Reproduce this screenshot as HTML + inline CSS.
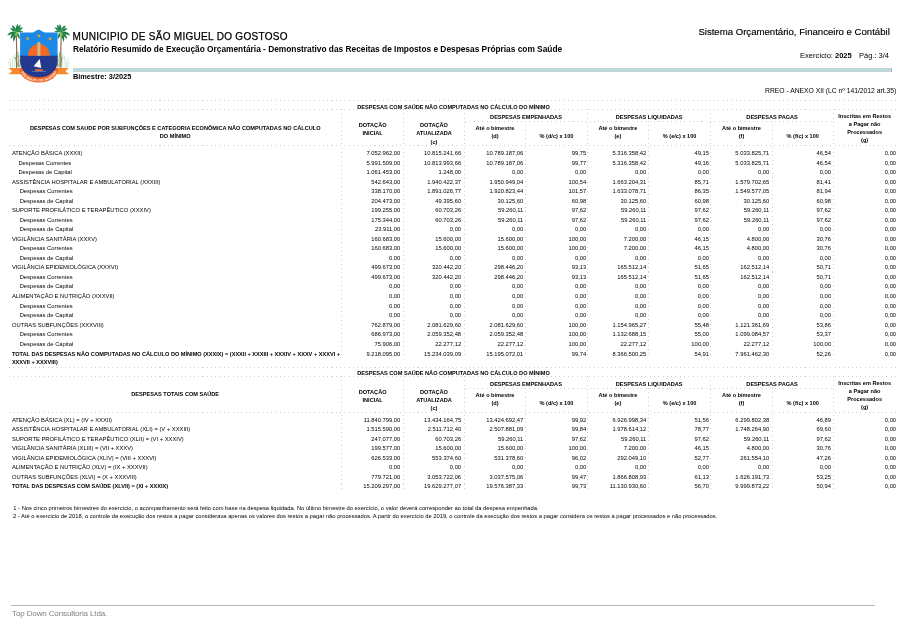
<!DOCTYPE html>
<html lang="pt-BR"><head><meta charset="utf-8"><title>RREO - Anexo XII</title>
<style>
html,body{margin:0;padding:0;background:#fff;}
body{will-change:transform;width:900px;height:637px;position:relative;overflow:hidden;font-family:"Liberation Sans",Arial,Helvetica,sans-serif;color:#000;}
.t{position:absolute;white-space:nowrap;line-height:1;}
.h{position:absolute;height:1px;background-image:repeating-linear-gradient(90deg,#d0d0d0 0,#d0d0d0 1px,transparent 1px,transparent 4.3px);}
.v{position:absolute;width:1px;background-image:repeating-linear-gradient(180deg,#d0d0d0 0,#d0d0d0 1px,transparent 1px,transparent 4.3px);}
</style></head><body>
<svg style="position:absolute;left:0;top:0" width="80" height="90" viewBox="0 0 80 90">
<defs><path id="arc" d="M21.3,70.5 C23,79 31,81.2 38.8,81.2 C46.6,81.2 54.6,79 56.3,70.5"/></defs>
<g stroke="#7cc48a" stroke-width="0.45" fill="none" opacity="0.85">
<path d="M10.5,67.5 Q11.5,62 9.5,58"/><path d="M12.5,67.5 Q12,61 13.5,56"/><path d="M14.5,67.5 Q15.5,62 14.8,54"/><path d="M11.5,67.5 Q9,64 8,61.5"/>
<path d="M67,67.5 Q66,62 68,58"/><path d="M65,67.5 Q65.5,61 64,56"/><path d="M63,67.5 Q62,62 62.7,54"/><path d="M66,67.5 Q68.5,64 69.5,61.5"/>
</g>
<g stroke="#2c8c47" stroke-width="0.7" fill="none">
<path d="M18.3,67.5 Q18.8,60 17.8,52"/><path d="M19.6,67 Q21,60 20.2,54.5"/><path d="M17.5,66 Q16,61 15.5,57"/>
<path d="M59.2,67.5 Q58.7,60 59.7,52"/><path d="M57.9,67 Q56.5,60 57.3,54.5"/><path d="M60,66 Q61.5,61 62,57"/>
</g>
<g fill="#f7941d">
<circle cx="18" cy="56.5" r="0.75"/><circle cx="19.8" cy="60.5" r="0.7"/><circle cx="17.3" cy="63" r="0.7"/><circle cx="19.2" cy="65" r="0.6"/>
<circle cx="59.5" cy="56.5" r="0.75"/><circle cx="57.7" cy="60.5" r="0.7"/><circle cx="60.2" cy="63" r="0.7"/><circle cx="58.3" cy="65" r="0.6"/>
</g>
<path d="M16.3,34 Q16.9,50 16.6,68" stroke="#876a52" stroke-width="1.15" fill="none"/>
<path d="M61.2,34 Q60.6,50 60.9,68" stroke="#876a52" stroke-width="1.15" fill="none"/>
<path d="M16.20,31.80 Q16.54,26.83 11.80,25.30 Q12.45,29.60 16.20,31.80 Z" fill="#1b7a41"/>
<path d="M16.20,31.80 Q14.39,27.27 9.70,28.60 Q12.21,31.70 16.20,31.80 Z" fill="#23894a"/>
<path d="M16.20,31.80 Q19.21,28.13 17.50,23.70 Q15.08,27.47 16.20,31.80 Z" fill="#1b7a41"/>
<path d="M16.20,31.80 Q20.00,29.16 20.80,24.60 Q16.16,26.70 16.20,31.80 Z" fill="#23894a"/>
<path d="M16.20,31.80 Q20.56,31.13 23.20,27.60 Q18.02,26.90 16.20,31.80 Z" fill="#1b7a41"/>
<path d="M16.20,31.80 Q19.70,33.08 23.20,31.80 Q19.70,28.52 16.20,31.80 Z" fill="#23894a"/>
<path d="M16.20,31.80 Q10.27,30.26 7.10,35.50 Q12.28,35.19 16.20,31.80 Z" fill="#1b7a41"/>
<path d="M16.20,31.80 Q10.54,33.34 10.30,39.20 Q14.40,36.42 16.20,31.80 Z" fill="#1f8446"/>
<path d="M16.20,31.80 Q11.91,36.25 13.60,42.20 Q16.34,37.36 16.20,31.80 Z" fill="#1b7a41"/>
<path d="M16.20,31.80 Q16.50,36.10 19.50,39.20 Q20.66,34.25 16.20,31.80 Z" fill="#1f8446"/>
<path d="M16.20,31.80 Q16.27,28.55 13.20,27.50 Q13.78,30.29 16.20,31.80 Z" fill="#2f9c57"/>
<path d="M16.20,31.80 Q18.76,31.30 20.00,29.00 Q16.96,28.85 16.20,31.80 Z" fill="#2f9c57"/>
<path d="M61.20,31.80 Q64.95,29.60 65.60,25.30 Q60.86,26.83 61.20,31.80 Z" fill="#1b7a41"/>
<path d="M61.20,31.80 Q65.19,31.70 67.70,28.60 Q63.01,27.27 61.20,31.80 Z" fill="#23894a"/>
<path d="M61.20,31.80 Q62.32,27.47 59.90,23.70 Q58.19,28.13 61.20,31.80 Z" fill="#1b7a41"/>
<path d="M61.20,31.80 Q61.24,26.70 56.60,24.60 Q57.40,29.16 61.20,31.80 Z" fill="#23894a"/>
<path d="M61.20,31.80 Q59.38,26.90 54.20,27.60 Q56.84,31.13 61.20,31.80 Z" fill="#1b7a41"/>
<path d="M61.20,31.80 Q57.70,28.52 54.20,31.80 Q57.70,33.08 61.20,31.80 Z" fill="#23894a"/>
<path d="M61.20,31.80 Q65.12,35.19 70.30,35.50 Q67.13,30.26 61.20,31.80 Z" fill="#1b7a41"/>
<path d="M61.20,31.80 Q63.00,36.42 67.10,39.20 Q66.86,33.34 61.20,31.80 Z" fill="#1f8446"/>
<path d="M61.20,31.80 Q61.06,37.36 63.80,42.20 Q65.49,36.25 61.20,31.80 Z" fill="#1b7a41"/>
<path d="M61.20,31.80 Q56.74,34.25 57.90,39.20 Q60.90,36.10 61.20,31.80 Z" fill="#1f8446"/>
<path d="M61.20,31.80 Q63.62,30.29 64.20,27.50 Q61.13,28.55 61.20,31.80 Z" fill="#2f9c57"/>
<path d="M61.20,31.80 Q60.44,28.85 57.40,29.00 Q58.64,31.30 61.20,31.80 Z" fill="#2f9c57"/>
<ellipse cx="16.2" cy="34.3" rx="1.35" ry="1.5" fill="#8dc641"/>
<ellipse cx="61.2" cy="34.3" rx="1.35" ry="1.5" fill="#8dc641"/>
<path d="M8.6,68 L22,68 L22,74.2 L8.6,74.2 L12.1,71.1 Z" fill="#f7892a"/>
<path d="M68.8,68 L55.5,68 L55.5,74.2 L68.8,74.2 L65.4,71.1 Z" fill="#f7892a"/>
<path d="M19.2,67.8 L58.4,67.8 C58.4,76.5 50,82.6 38.8,82.6 C27.6,82.6 19.2,76.5 19.2,67.8 Z" fill="#f26a28"/>
<clipPath id="sc"><path d="M20.1,32.6 L31.5,32.6 C34.5,32.5 35.8,29.7 38.6,29.7 C41.4,29.7 42.7,32.5 45.7,32.5 L57.6,32.4 L57.6,61 C57.6,71 49.5,77.2 38.8,77.4 C28.2,77.2 20.1,71 20.1,61 Z"/></clipPath>
<g clip-path="url(#sc)">
<rect x="18" y="28" width="42" height="28" fill="#1c89e6"/>
<rect x="18" y="55.7" width="42" height="24" fill="#24398e"/>
<path d="M27.9,55.7 A11,11.6 0 0 1 49.9,55.7 Z" fill="#f26a22"/>
<rect x="37.3" y="42.1" width="3.1" height="13.6" fill="#cfb68f"/>
<path d="M39.7,59 L33.6,66.3 L41.2,68 Z" fill="#ffffff"/>
<path d="M34.5,69.3 L43.4,69.3 L42.2,70.9 L35.8,70.9 Z" fill="#f26a22"/>
<path d="M31.8,71.5 L46,71.5" stroke="#8fb6d9" stroke-width="0.45"/>
</g>
<polygon points="27.50,36.60 28.03,37.87 29.40,37.98 28.36,38.88 28.68,40.22 27.50,39.50 26.32,40.22 26.64,38.88 25.60,37.98 26.97,37.87" fill="#f6a41c"/>
<polygon points="38.90,33.80 39.43,35.07 40.80,35.18 39.76,36.08 40.08,37.42 38.90,36.70 37.72,37.42 38.04,36.08 37.00,35.18 38.37,35.07" fill="#f6a41c"/>
<polygon points="50.00,36.80 50.53,38.07 51.90,38.18 50.86,39.08 51.18,40.42 50.00,39.70 48.82,40.42 49.14,39.08 48.10,38.18 49.47,38.07" fill="#f6a41c"/>
<text font-family="Liberation Sans, sans-serif" font-size="3" font-weight="bold" fill="#ffffff" letter-spacing="0.1"><textPath href="#arc" startOffset="50%" text-anchor="middle">SÃO MIGUEL DO GOSTOSO</textPath></text>
</svg>
<div class="t" style="top:32px;font-size:10px;left:72.6px;letter-spacing:0.3px;-webkit-text-stroke:0.25px #000;">MUNICIPIO DE SÃO MIGUEL DO GOSTOSO</div>
<div class="t" style="top:45px;font-size:8.33px;font-weight:bold;left:72.9px;">Relatório Resumido de Execução Orçamentária - Demonstrativo das Receitas de Impostos e Despesas Próprias com Saúde</div>
<div class="t" style="top:27px;font-size:9.6px;right:10.2px;-webkit-text-stroke:0.15px #000;">Sistema Orçamentário, Financeiro e Contábil</div>
<div class="t" style="top:52px;font-size:7.5px;left:800px;">Exercício: <b>2025</b></div>
<div class="t" style="top:52px;font-size:7.5px;right:11px;">Pág.: 3/4</div>
<div style="position:absolute;left:72.5px;top:68.2px;width:819.5px;height:3.4px;background:#cdd0d0"></div>
<div style="position:absolute;left:73px;top:68.9px;width:818px;height:2px;background:#b0dfdf"></div>
<div style="position:absolute;left:891px;top:68.3px;width:1px;height:3.3px;background:#b4b6b6"></div>
<div class="t" style="top:73px;font-size:7.35px;font-weight:bold;left:72.9px;">Bimestre: 3/2025</div>
<div class="t" style="top:88px;font-size:6.75px;right:3.8px;">RREO - ANEXO XII (LC nº 141/2012 art.35)</div>
<div class="h" style="left:9px;top:100px;width:887px"></div>
<div class="h" style="left:9px;top:108.9px;width:887px"></div>
<div class="h" style="left:464.5px;top:120.9px;width:368.8px"></div>
<div class="h" style="left:9px;top:144.9px;width:887px"></div>
<div class="t" style="top:105px;font-size:5.6px;font-weight:bold;left:253.6px;width:400px;text-align:center;">DESPESAS COM SAÚDE NÃO COMPUTADAS NO CÁLCULO DO MÍNIMO</div>
<div class="t" style="top:126px;font-size:5.6px;font-weight:bold;left:-24.8px;width:400px;text-align:center;">DESPESAS COM SAUDE POR SUBFUNÇÕES E CATEGORIA ECONÔMICA NÃO COMPUTADAS NO CÁLCULO</div>
<div class="t" style="top:134px;font-size:5.6px;font-weight:bold;left:-24.8px;width:400px;text-align:center;">DO MÍNIMO</div>
<div class="t" style="top:123px;font-size:5.6px;font-weight:bold;left:342.6px;width:60px;text-align:center;">DOTAÇÃO</div>
<div class="t" style="top:131px;font-size:5.6px;font-weight:bold;left:342.6px;width:60px;text-align:center;">INICIAL</div>
<div class="t" style="top:123px;font-size:5.6px;font-weight:bold;left:404px;width:60px;text-align:center;">DOTAÇÃO</div>
<div class="t" style="top:131px;font-size:5.6px;font-weight:bold;left:404px;width:60px;text-align:center;">ATUALIZADA</div>
<div class="t" style="top:140px;font-size:5.6px;font-weight:bold;left:404px;width:60px;text-align:center;">(c)</div>
<div class="t" style="top:115px;font-size:5.6px;font-weight:bold;left:466px;width:120px;text-align:center;">DESPESAS EMPENHADAS</div>
<div class="t" style="top:126px;font-size:5.6px;font-weight:bold;left:465px;width:60px;text-align:center;">Até o bimestre</div>
<div class="t" style="top:134px;font-size:5.6px;font-weight:bold;left:465px;width:60px;text-align:center;">(d)</div>
<div class="t" style="top:134px;font-size:5.6px;font-weight:bold;left:526.5px;width:60px;text-align:center;">% (d/c) x 100</div>
<div class="t" style="top:115px;font-size:5.6px;font-weight:bold;left:589.2px;width:120px;text-align:center;">DESPESAS LIQUIDADAS</div>
<div class="t" style="top:126px;font-size:5.6px;font-weight:bold;left:587.9px;width:60px;text-align:center;">Até o bimestre</div>
<div class="t" style="top:134px;font-size:5.6px;font-weight:bold;left:587.9px;width:60px;text-align:center;">(e)</div>
<div class="t" style="top:134px;font-size:5.6px;font-weight:bold;left:649.6px;width:60px;text-align:center;">% (e/c) x 100</div>
<div class="t" style="top:115px;font-size:5.6px;font-weight:bold;left:712.1px;width:120px;text-align:center;">DESPESAS PAGAS</div>
<div class="t" style="top:126px;font-size:5.6px;font-weight:bold;left:711.55px;width:60px;text-align:center;">Até o bimestre</div>
<div class="t" style="top:134px;font-size:5.6px;font-weight:bold;left:711.55px;width:60px;text-align:center;">(f)</div>
<div class="t" style="top:134px;font-size:5.6px;font-weight:bold;left:772.75px;width:60px;text-align:center;">% (f/c) x 100</div>
<div class="t" style="top:114px;font-size:5.6px;font-weight:bold;left:833.65px;width:62px;text-align:center;">Inscritas em Restos</div>
<div class="t" style="top:122px;font-size:5.6px;font-weight:bold;left:833.65px;width:62px;text-align:center;">a Pagar não</div>
<div class="t" style="top:130px;font-size:5.6px;font-weight:bold;left:833.65px;width:62px;text-align:center;">Processados</div>
<div class="t" style="top:138px;font-size:5.6px;font-weight:bold;left:833.65px;width:62px;text-align:center;">(g)</div>
<div class="v" style="left:341.2px;top:109.4px;height:247.6px"></div>
<div class="v" style="left:403px;top:109.4px;height:247.6px"></div>
<div class="v" style="left:464px;top:109.4px;height:247.6px"></div>
<div class="v" style="left:587px;top:109.4px;height:247.6px"></div>
<div class="v" style="left:710.4px;top:109.4px;height:247.6px"></div>
<div class="v" style="left:832.8px;top:109.4px;height:247.6px"></div>
<div class="v" style="left:525px;top:121.4px;height:235.6px"></div>
<div class="v" style="left:647.8px;top:121.4px;height:235.6px"></div>
<div class="v" style="left:771.7px;top:121.4px;height:235.6px"></div>
<div class="t" style="top:151px;font-size:5.8px;left:11.9px;">ATENÇÃO BÁSICA (XXXII)</div>
<div class="t" style="top:151px;font-size:5.8px;right:499.7px;">7.052.962,00</div>
<div class="t" style="top:151px;font-size:5.8px;right:438.9px;">10.815.241,66</div>
<div class="t" style="top:151px;font-size:5.8px;right:376.7px;">10.789.187,06</div>
<div class="t" style="top:151px;font-size:5.8px;right:313.8px;">99,75</div>
<div class="t" style="top:151px;font-size:5.8px;right:253.7px;">5.316.358,42</div>
<div class="t" style="top:151px;font-size:5.8px;right:191px;">49,15</div>
<div class="t" style="top:151px;font-size:5.8px;right:130.8px;">5.033.825,71</div>
<div class="t" style="top:151px;font-size:5.8px;right:69px;">46,54</div>
<div class="t" style="top:151px;font-size:5.8px;right:3.9px;">0,00</div>
<div class="t" style="top:161px;font-size:5.8px;left:18.4px;">Despesas Correntes</div>
<div class="t" style="top:161px;font-size:5.8px;right:499.7px;">5.991.509,00</div>
<div class="t" style="top:161px;font-size:5.8px;right:438.9px;">10.813.993,66</div>
<div class="t" style="top:161px;font-size:5.8px;right:376.7px;">10.789.187,06</div>
<div class="t" style="top:161px;font-size:5.8px;right:313.8px;">99,77</div>
<div class="t" style="top:161px;font-size:5.8px;right:253.7px;">5.316.358,42</div>
<div class="t" style="top:161px;font-size:5.8px;right:191px;">49,16</div>
<div class="t" style="top:161px;font-size:5.8px;right:130.8px;">5.033.825,71</div>
<div class="t" style="top:161px;font-size:5.8px;right:69px;">46,54</div>
<div class="t" style="top:161px;font-size:5.8px;right:3.9px;">0,00</div>
<div class="t" style="top:170px;font-size:5.8px;left:18.4px;">Despesas de Capital</div>
<div class="t" style="top:170px;font-size:5.8px;right:499.7px;">1.061.453,00</div>
<div class="t" style="top:170px;font-size:5.8px;right:438.9px;">1.248,00</div>
<div class="t" style="top:170px;font-size:5.8px;right:376.7px;">0,00</div>
<div class="t" style="top:170px;font-size:5.8px;right:313.8px;">0,00</div>
<div class="t" style="top:170px;font-size:5.8px;right:253.7px;">0,00</div>
<div class="t" style="top:170px;font-size:5.8px;right:191px;">0,00</div>
<div class="t" style="top:170px;font-size:5.8px;right:130.8px;">0,00</div>
<div class="t" style="top:170px;font-size:5.8px;right:69px;">0,00</div>
<div class="t" style="top:170px;font-size:5.8px;right:3.9px;">0,00</div>
<div class="t" style="top:180px;font-size:5.8px;left:11.9px;">ASSISTÊNCIA HOSPITALAR E AMBULATORIAL (XXXIII)</div>
<div class="t" style="top:180px;font-size:5.8px;right:499.7px;">542.643,00</div>
<div class="t" style="top:180px;font-size:5.8px;right:438.9px;">1.940.422,37</div>
<div class="t" style="top:180px;font-size:5.8px;right:376.7px;">1.950.949,04</div>
<div class="t" style="top:180px;font-size:5.8px;right:313.8px;">100,54</div>
<div class="t" style="top:180px;font-size:5.8px;right:253.7px;">1.663.204,31</div>
<div class="t" style="top:180px;font-size:5.8px;right:191px;">85,71</div>
<div class="t" style="top:180px;font-size:5.8px;right:130.8px;">1.579.702,65</div>
<div class="t" style="top:180px;font-size:5.8px;right:69px;">81,41</div>
<div class="t" style="top:180px;font-size:5.8px;right:3.9px;">0,00</div>
<div class="t" style="top:189px;font-size:5.8px;left:19.7px;">Despesas Correntes</div>
<div class="t" style="top:189px;font-size:5.8px;right:499.7px;">338.170,00</div>
<div class="t" style="top:189px;font-size:5.8px;right:438.9px;">1.891.026,77</div>
<div class="t" style="top:189px;font-size:5.8px;right:376.7px;">1.920.823,44</div>
<div class="t" style="top:189px;font-size:5.8px;right:313.8px;">101,57</div>
<div class="t" style="top:189px;font-size:5.8px;right:253.7px;">1.633.078,71</div>
<div class="t" style="top:189px;font-size:5.8px;right:191px;">86,35</div>
<div class="t" style="top:189px;font-size:5.8px;right:130.8px;">1.549.577,05</div>
<div class="t" style="top:189px;font-size:5.8px;right:69px;">81,94</div>
<div class="t" style="top:189px;font-size:5.8px;right:3.9px;">0,00</div>
<div class="t" style="top:199px;font-size:5.8px;left:19.7px;">Despesas de Capital</div>
<div class="t" style="top:199px;font-size:5.8px;right:499.7px;">204.473,00</div>
<div class="t" style="top:199px;font-size:5.8px;right:438.9px;">49.395,60</div>
<div class="t" style="top:199px;font-size:5.8px;right:376.7px;">30.125,60</div>
<div class="t" style="top:199px;font-size:5.8px;right:313.8px;">60,98</div>
<div class="t" style="top:199px;font-size:5.8px;right:253.7px;">30.125,60</div>
<div class="t" style="top:199px;font-size:5.8px;right:191px;">60,98</div>
<div class="t" style="top:199px;font-size:5.8px;right:130.8px;">30.125,60</div>
<div class="t" style="top:199px;font-size:5.8px;right:69px;">60,98</div>
<div class="t" style="top:199px;font-size:5.8px;right:3.9px;">0,00</div>
<div class="t" style="top:208px;font-size:5.8px;left:11.9px;">SUPORTE PROFILÁTICO E TERAPÊUTICO (XXXIV)</div>
<div class="t" style="top:208px;font-size:5.8px;right:499.7px;">199.255,00</div>
<div class="t" style="top:208px;font-size:5.8px;right:438.9px;">60.703,26</div>
<div class="t" style="top:208px;font-size:5.8px;right:376.7px;">59.260,11</div>
<div class="t" style="top:208px;font-size:5.8px;right:313.8px;">97,62</div>
<div class="t" style="top:208px;font-size:5.8px;right:253.7px;">59.260,11</div>
<div class="t" style="top:208px;font-size:5.8px;right:191px;">97,62</div>
<div class="t" style="top:208px;font-size:5.8px;right:130.8px;">59.260,11</div>
<div class="t" style="top:208px;font-size:5.8px;right:69px;">97,62</div>
<div class="t" style="top:208px;font-size:5.8px;right:3.9px;">0,00</div>
<div class="t" style="top:218px;font-size:5.8px;left:19.7px;">Despesas Correntes</div>
<div class="t" style="top:218px;font-size:5.8px;right:499.7px;">175.344,00</div>
<div class="t" style="top:218px;font-size:5.8px;right:438.9px;">60.703,26</div>
<div class="t" style="top:218px;font-size:5.8px;right:376.7px;">59.260,11</div>
<div class="t" style="top:218px;font-size:5.8px;right:313.8px;">97,62</div>
<div class="t" style="top:218px;font-size:5.8px;right:253.7px;">59.260,11</div>
<div class="t" style="top:218px;font-size:5.8px;right:191px;">97,62</div>
<div class="t" style="top:218px;font-size:5.8px;right:130.8px;">59.260,11</div>
<div class="t" style="top:218px;font-size:5.8px;right:69px;">97,62</div>
<div class="t" style="top:218px;font-size:5.8px;right:3.9px;">0,00</div>
<div class="t" style="top:227px;font-size:5.8px;left:19.7px;">Despesas de Capital</div>
<div class="t" style="top:227px;font-size:5.8px;right:499.7px;">23.911,00</div>
<div class="t" style="top:227px;font-size:5.8px;right:438.9px;">0,00</div>
<div class="t" style="top:227px;font-size:5.8px;right:376.7px;">0,00</div>
<div class="t" style="top:227px;font-size:5.8px;right:313.8px;">0,00</div>
<div class="t" style="top:227px;font-size:5.8px;right:253.7px;">0,00</div>
<div class="t" style="top:227px;font-size:5.8px;right:191px;">0,00</div>
<div class="t" style="top:227px;font-size:5.8px;right:130.8px;">0,00</div>
<div class="t" style="top:227px;font-size:5.8px;right:69px;">0,00</div>
<div class="t" style="top:227px;font-size:5.8px;right:3.9px;">0,00</div>
<div class="t" style="top:237px;font-size:5.8px;left:11.9px;">VIGILÂNCIA SANITÁRIA (XXXV)</div>
<div class="t" style="top:237px;font-size:5.8px;right:499.7px;">160.683,00</div>
<div class="t" style="top:237px;font-size:5.8px;right:438.9px;">15.600,00</div>
<div class="t" style="top:237px;font-size:5.8px;right:376.7px;">15.600,00</div>
<div class="t" style="top:237px;font-size:5.8px;right:313.8px;">100,00</div>
<div class="t" style="top:237px;font-size:5.8px;right:253.7px;">7.200,00</div>
<div class="t" style="top:237px;font-size:5.8px;right:191px;">46,15</div>
<div class="t" style="top:237px;font-size:5.8px;right:130.8px;">4.800,00</div>
<div class="t" style="top:237px;font-size:5.8px;right:69px;">30,76</div>
<div class="t" style="top:237px;font-size:5.8px;right:3.9px;">0,00</div>
<div class="t" style="top:246px;font-size:5.8px;left:19.7px;">Despesas Correntes</div>
<div class="t" style="top:246px;font-size:5.8px;right:499.7px;">160.683,00</div>
<div class="t" style="top:246px;font-size:5.8px;right:438.9px;">15.600,00</div>
<div class="t" style="top:246px;font-size:5.8px;right:376.7px;">15.600,00</div>
<div class="t" style="top:246px;font-size:5.8px;right:313.8px;">100,00</div>
<div class="t" style="top:246px;font-size:5.8px;right:253.7px;">7.200,00</div>
<div class="t" style="top:246px;font-size:5.8px;right:191px;">46,15</div>
<div class="t" style="top:246px;font-size:5.8px;right:130.8px;">4.800,00</div>
<div class="t" style="top:246px;font-size:5.8px;right:69px;">30,76</div>
<div class="t" style="top:246px;font-size:5.8px;right:3.9px;">0,00</div>
<div class="t" style="top:256px;font-size:5.8px;left:19.7px;">Despesas de Capital</div>
<div class="t" style="top:256px;font-size:5.8px;right:499.7px;">0,00</div>
<div class="t" style="top:256px;font-size:5.8px;right:438.9px;">0,00</div>
<div class="t" style="top:256px;font-size:5.8px;right:376.7px;">0,00</div>
<div class="t" style="top:256px;font-size:5.8px;right:313.8px;">0,00</div>
<div class="t" style="top:256px;font-size:5.8px;right:253.7px;">0,00</div>
<div class="t" style="top:256px;font-size:5.8px;right:191px;">0,00</div>
<div class="t" style="top:256px;font-size:5.8px;right:130.8px;">0,00</div>
<div class="t" style="top:256px;font-size:5.8px;right:69px;">0,00</div>
<div class="t" style="top:256px;font-size:5.8px;right:3.9px;">0,00</div>
<div class="t" style="top:265px;font-size:5.8px;left:11.9px;">VIGILÂNCIA EPIDEMIOLÓGICA (XXXVI)</div>
<div class="t" style="top:265px;font-size:5.8px;right:499.7px;">499.673,00</div>
<div class="t" style="top:265px;font-size:5.8px;right:438.9px;">320.442,20</div>
<div class="t" style="top:265px;font-size:5.8px;right:376.7px;">298.446,20</div>
<div class="t" style="top:265px;font-size:5.8px;right:313.8px;">93,13</div>
<div class="t" style="top:265px;font-size:5.8px;right:253.7px;">165.512,14</div>
<div class="t" style="top:265px;font-size:5.8px;right:191px;">51,65</div>
<div class="t" style="top:265px;font-size:5.8px;right:130.8px;">162.512,14</div>
<div class="t" style="top:265px;font-size:5.8px;right:69px;">50,71</div>
<div class="t" style="top:265px;font-size:5.8px;right:3.9px;">0,00</div>
<div class="t" style="top:275px;font-size:5.8px;left:19.7px;">Despesas Correntes</div>
<div class="t" style="top:275px;font-size:5.8px;right:499.7px;">499.673,00</div>
<div class="t" style="top:275px;font-size:5.8px;right:438.9px;">320.442,20</div>
<div class="t" style="top:275px;font-size:5.8px;right:376.7px;">298.446,20</div>
<div class="t" style="top:275px;font-size:5.8px;right:313.8px;">93,13</div>
<div class="t" style="top:275px;font-size:5.8px;right:253.7px;">165.512,14</div>
<div class="t" style="top:275px;font-size:5.8px;right:191px;">51,65</div>
<div class="t" style="top:275px;font-size:5.8px;right:130.8px;">162.512,14</div>
<div class="t" style="top:275px;font-size:5.8px;right:69px;">50,71</div>
<div class="t" style="top:275px;font-size:5.8px;right:3.9px;">0,00</div>
<div class="t" style="top:284px;font-size:5.8px;left:19.7px;">Despesas de Capital</div>
<div class="t" style="top:284px;font-size:5.8px;right:499.7px;">0,00</div>
<div class="t" style="top:284px;font-size:5.8px;right:438.9px;">0,00</div>
<div class="t" style="top:284px;font-size:5.8px;right:376.7px;">0,00</div>
<div class="t" style="top:284px;font-size:5.8px;right:313.8px;">0,00</div>
<div class="t" style="top:284px;font-size:5.8px;right:253.7px;">0,00</div>
<div class="t" style="top:284px;font-size:5.8px;right:191px;">0,00</div>
<div class="t" style="top:284px;font-size:5.8px;right:130.8px;">0,00</div>
<div class="t" style="top:284px;font-size:5.8px;right:69px;">0,00</div>
<div class="t" style="top:284px;font-size:5.8px;right:3.9px;">0,00</div>
<div class="t" style="top:294px;font-size:5.8px;left:11.9px;">ALIMENTAÇÃO E NUTRIÇÃO (XXXVII)</div>
<div class="t" style="top:294px;font-size:5.8px;right:499.7px;">0,00</div>
<div class="t" style="top:294px;font-size:5.8px;right:438.9px;">0,00</div>
<div class="t" style="top:294px;font-size:5.8px;right:376.7px;">0,00</div>
<div class="t" style="top:294px;font-size:5.8px;right:313.8px;">0,00</div>
<div class="t" style="top:294px;font-size:5.8px;right:253.7px;">0,00</div>
<div class="t" style="top:294px;font-size:5.8px;right:191px;">0,00</div>
<div class="t" style="top:294px;font-size:5.8px;right:130.8px;">0,00</div>
<div class="t" style="top:294px;font-size:5.8px;right:69px;">0,00</div>
<div class="t" style="top:294px;font-size:5.8px;right:3.9px;">0,00</div>
<div class="t" style="top:304px;font-size:5.8px;left:19.7px;">Despesas Correntes</div>
<div class="t" style="top:304px;font-size:5.8px;right:499.7px;">0,00</div>
<div class="t" style="top:304px;font-size:5.8px;right:438.9px;">0,00</div>
<div class="t" style="top:304px;font-size:5.8px;right:376.7px;">0,00</div>
<div class="t" style="top:304px;font-size:5.8px;right:313.8px;">0,00</div>
<div class="t" style="top:304px;font-size:5.8px;right:253.7px;">0,00</div>
<div class="t" style="top:304px;font-size:5.8px;right:191px;">0,00</div>
<div class="t" style="top:304px;font-size:5.8px;right:130.8px;">0,00</div>
<div class="t" style="top:304px;font-size:5.8px;right:69px;">0,00</div>
<div class="t" style="top:304px;font-size:5.8px;right:3.9px;">0,00</div>
<div class="t" style="top:313px;font-size:5.8px;left:19.7px;">Despesas de Capital</div>
<div class="t" style="top:313px;font-size:5.8px;right:499.7px;">0,00</div>
<div class="t" style="top:313px;font-size:5.8px;right:438.9px;">0,00</div>
<div class="t" style="top:313px;font-size:5.8px;right:376.7px;">0,00</div>
<div class="t" style="top:313px;font-size:5.8px;right:313.8px;">0,00</div>
<div class="t" style="top:313px;font-size:5.8px;right:253.7px;">0,00</div>
<div class="t" style="top:313px;font-size:5.8px;right:191px;">0,00</div>
<div class="t" style="top:313px;font-size:5.8px;right:130.8px;">0,00</div>
<div class="t" style="top:313px;font-size:5.8px;right:69px;">0,00</div>
<div class="t" style="top:313px;font-size:5.8px;right:3.9px;">0,00</div>
<div class="t" style="top:323px;font-size:5.8px;left:11.9px;">OUTRAS SUBFUNÇÕES (XXXVIII)</div>
<div class="t" style="top:323px;font-size:5.8px;right:499.7px;">762.879,00</div>
<div class="t" style="top:323px;font-size:5.8px;right:438.9px;">2.081.629,60</div>
<div class="t" style="top:323px;font-size:5.8px;right:376.7px;">2.081.629,60</div>
<div class="t" style="top:323px;font-size:5.8px;right:313.8px;">100,00</div>
<div class="t" style="top:323px;font-size:5.8px;right:253.7px;">1.154.965,27</div>
<div class="t" style="top:323px;font-size:5.8px;right:191px;">55,48</div>
<div class="t" style="top:323px;font-size:5.8px;right:130.8px;">1.121.361,69</div>
<div class="t" style="top:323px;font-size:5.8px;right:69px;">53,86</div>
<div class="t" style="top:323px;font-size:5.8px;right:3.9px;">0,00</div>
<div class="t" style="top:332px;font-size:5.8px;left:19.7px;">Despesas Correntes</div>
<div class="t" style="top:332px;font-size:5.8px;right:499.7px;">686.973,00</div>
<div class="t" style="top:332px;font-size:5.8px;right:438.9px;">2.059.352,48</div>
<div class="t" style="top:332px;font-size:5.8px;right:376.7px;">2.059.352,48</div>
<div class="t" style="top:332px;font-size:5.8px;right:313.8px;">100,00</div>
<div class="t" style="top:332px;font-size:5.8px;right:253.7px;">1.132.688,15</div>
<div class="t" style="top:332px;font-size:5.8px;right:191px;">55,00</div>
<div class="t" style="top:332px;font-size:5.8px;right:130.8px;">1.099.084,57</div>
<div class="t" style="top:332px;font-size:5.8px;right:69px;">53,37</div>
<div class="t" style="top:332px;font-size:5.8px;right:3.9px;">0,00</div>
<div class="t" style="top:342px;font-size:5.8px;left:19.7px;">Despesas de Capital</div>
<div class="t" style="top:342px;font-size:5.8px;right:499.7px;">75.906,00</div>
<div class="t" style="top:342px;font-size:5.8px;right:438.9px;">22.277,12</div>
<div class="t" style="top:342px;font-size:5.8px;right:376.7px;">22.277,12</div>
<div class="t" style="top:342px;font-size:5.8px;right:313.8px;">100,00</div>
<div class="t" style="top:342px;font-size:5.8px;right:253.7px;">22.277,12</div>
<div class="t" style="top:342px;font-size:5.8px;right:191px;">100,00</div>
<div class="t" style="top:342px;font-size:5.8px;right:130.8px;">22.277,12</div>
<div class="t" style="top:342px;font-size:5.8px;right:69px;">100,00</div>
<div class="t" style="top:342px;font-size:5.8px;right:3.9px;">0,00</div>
<div class="t" style="top:352px;font-size:5.6px;font-weight:bold;left:11.9px;">TOTAL DAS DESPESAS NÃO COMPUTADAS NO CÁLCULO DO MÍNIMO (XXXIX) = (XXXII + XXXIII + XXXIV + XXXV + XXXVI +</div>
<div class="t" style="top:360px;font-size:5.6px;font-weight:bold;left:11.9px;">XXXVII + XXXVIII)</div>
<div class="t" style="top:352px;font-size:5.8px;right:499.7px;">9.218.095,00</div>
<div class="t" style="top:352px;font-size:5.8px;right:438.9px;">15.234.039,09</div>
<div class="t" style="top:352px;font-size:5.8px;right:376.7px;">15.195.072,01</div>
<div class="t" style="top:352px;font-size:5.8px;right:313.8px;">99,74</div>
<div class="t" style="top:352px;font-size:5.8px;right:253.7px;">8.366.500,25</div>
<div class="t" style="top:352px;font-size:5.8px;right:191px;">54,91</div>
<div class="t" style="top:352px;font-size:5.8px;right:130.8px;">7.961.462,30</div>
<div class="t" style="top:352px;font-size:5.8px;right:69px;">52,26</div>
<div class="t" style="top:352px;font-size:5.8px;right:3.9px;">0,00</div>
<div class="h" style="left:9px;top:366.9px;width:887px"></div>
<div class="h" style="left:9px;top:366.9px;width:887px"></div>
<div class="h" style="left:9px;top:375.8px;width:887px"></div>
<div class="h" style="left:464.5px;top:387.8px;width:368.8px"></div>
<div class="h" style="left:9px;top:411.8px;width:887px"></div>
<div class="t" style="top:371px;font-size:5.6px;font-weight:bold;left:253.6px;width:400px;text-align:center;">DESPESAS COM SAÚDE NÃO COMPUTADAS NO CÁLCULO DO MÍNIMO</div>
<div class="t" style="top:392px;font-size:5.6px;font-weight:bold;left:-24.8px;width:400px;text-align:center;">DESPESAS TOTAIS COM SAÚDE</div>
<div class="t" style="top:390px;font-size:5.6px;font-weight:bold;left:342.6px;width:60px;text-align:center;">DOTAÇÃO</div>
<div class="t" style="top:398px;font-size:5.6px;font-weight:bold;left:342.6px;width:60px;text-align:center;">INICIAL</div>
<div class="t" style="top:390px;font-size:5.6px;font-weight:bold;left:404px;width:60px;text-align:center;">DOTAÇÃO</div>
<div class="t" style="top:398px;font-size:5.6px;font-weight:bold;left:404px;width:60px;text-align:center;">ATUALIZADA</div>
<div class="t" style="top:406px;font-size:5.6px;font-weight:bold;left:404px;width:60px;text-align:center;">(c)</div>
<div class="t" style="top:382px;font-size:5.6px;font-weight:bold;left:466px;width:120px;text-align:center;">DESPESAS EMPENHADAS</div>
<div class="t" style="top:393px;font-size:5.6px;font-weight:bold;left:465px;width:60px;text-align:center;">Até o bimestre</div>
<div class="t" style="top:401px;font-size:5.6px;font-weight:bold;left:465px;width:60px;text-align:center;">(d)</div>
<div class="t" style="top:401px;font-size:5.6px;font-weight:bold;left:526.5px;width:60px;text-align:center;">% (d/c) x 100</div>
<div class="t" style="top:382px;font-size:5.6px;font-weight:bold;left:589.2px;width:120px;text-align:center;">DESPESAS LIQUIDADAS</div>
<div class="t" style="top:393px;font-size:5.6px;font-weight:bold;left:587.9px;width:60px;text-align:center;">Até o bimestre</div>
<div class="t" style="top:401px;font-size:5.6px;font-weight:bold;left:587.9px;width:60px;text-align:center;">(e)</div>
<div class="t" style="top:401px;font-size:5.6px;font-weight:bold;left:649.6px;width:60px;text-align:center;">% (e/c) x 100</div>
<div class="t" style="top:382px;font-size:5.6px;font-weight:bold;left:712.1px;width:120px;text-align:center;">DESPESAS PAGAS</div>
<div class="t" style="top:393px;font-size:5.6px;font-weight:bold;left:711.55px;width:60px;text-align:center;">Até o bimestre</div>
<div class="t" style="top:401px;font-size:5.6px;font-weight:bold;left:711.55px;width:60px;text-align:center;">(f)</div>
<div class="t" style="top:401px;font-size:5.6px;font-weight:bold;left:772.75px;width:60px;text-align:center;">% (f/c) x 100</div>
<div class="t" style="top:381px;font-size:5.6px;font-weight:bold;left:833.65px;width:62px;text-align:center;">Inscritas em Restos</div>
<div class="t" style="top:389px;font-size:5.6px;font-weight:bold;left:833.65px;width:62px;text-align:center;">a Pagar não</div>
<div class="t" style="top:397px;font-size:5.6px;font-weight:bold;left:833.65px;width:62px;text-align:center;">Processados</div>
<div class="t" style="top:405px;font-size:5.6px;font-weight:bold;left:833.65px;width:62px;text-align:center;">(g)</div>
<div class="v" style="left:341.2px;top:376.3px;height:113.7px"></div>
<div class="v" style="left:403px;top:376.3px;height:113.7px"></div>
<div class="v" style="left:464px;top:376.3px;height:113.7px"></div>
<div class="v" style="left:587px;top:376.3px;height:113.7px"></div>
<div class="v" style="left:710.4px;top:376.3px;height:113.7px"></div>
<div class="v" style="left:832.8px;top:376.3px;height:113.7px"></div>
<div class="v" style="left:525px;top:388.3px;height:101.7px"></div>
<div class="v" style="left:647.8px;top:388.3px;height:101.7px"></div>
<div class="v" style="left:771.7px;top:388.3px;height:101.7px"></div>
<div class="t" style="top:418px;font-size:5.8px;left:11.9px;">ATENÇÃO BÁSICA (XL) = (IV + XXXII)</div>
<div class="t" style="top:418px;font-size:5.8px;right:499.7px;">11.840.799,00</div>
<div class="t" style="top:418px;font-size:5.8px;right:438.9px;">13.434.164,75</div>
<div class="t" style="top:418px;font-size:5.8px;right:376.7px;">13.424.692,47</div>
<div class="t" style="top:418px;font-size:5.8px;right:313.8px;">99,92</div>
<div class="t" style="top:418px;font-size:5.8px;right:253.7px;">6.926.998,34</div>
<div class="t" style="top:418px;font-size:5.8px;right:191px;">51,56</div>
<div class="t" style="top:418px;font-size:5.8px;right:130.8px;">6.299.802,38</div>
<div class="t" style="top:418px;font-size:5.8px;right:69px;">46,89</div>
<div class="t" style="top:418px;font-size:5.8px;right:3.9px;">0,00</div>
<div class="t" style="top:427px;font-size:5.8px;left:11.9px;">ASSISTÊNCIA HOSPITALAR E AMBULATORIAL (XLI) = (V + XXXIII)</div>
<div class="t" style="top:427px;font-size:5.8px;right:499.7px;">1.515.590,00</div>
<div class="t" style="top:427px;font-size:5.8px;right:438.9px;">2.511.712,40</div>
<div class="t" style="top:427px;font-size:5.8px;right:376.7px;">2.507.881,09</div>
<div class="t" style="top:427px;font-size:5.8px;right:313.8px;">99,84</div>
<div class="t" style="top:427px;font-size:5.8px;right:253.7px;">1.978.614,12</div>
<div class="t" style="top:427px;font-size:5.8px;right:191px;">78,77</div>
<div class="t" style="top:427px;font-size:5.8px;right:130.8px;">1.748.264,90</div>
<div class="t" style="top:427px;font-size:5.8px;right:69px;">69,60</div>
<div class="t" style="top:427px;font-size:5.8px;right:3.9px;">0,00</div>
<div class="t" style="top:437px;font-size:5.8px;left:11.9px;">SUPORTE PROFILÁTICO E TERAPÊUTICO (XLII) = (VI + XXXIV)</div>
<div class="t" style="top:437px;font-size:5.8px;right:499.7px;">247.077,00</div>
<div class="t" style="top:437px;font-size:5.8px;right:438.9px;">60.703,26</div>
<div class="t" style="top:437px;font-size:5.8px;right:376.7px;">59.260,11</div>
<div class="t" style="top:437px;font-size:5.8px;right:313.8px;">97,62</div>
<div class="t" style="top:437px;font-size:5.8px;right:253.7px;">59.260,11</div>
<div class="t" style="top:437px;font-size:5.8px;right:191px;">97,62</div>
<div class="t" style="top:437px;font-size:5.8px;right:130.8px;">59.260,11</div>
<div class="t" style="top:437px;font-size:5.8px;right:69px;">97,62</div>
<div class="t" style="top:437px;font-size:5.8px;right:3.9px;">0,00</div>
<div class="t" style="top:446px;font-size:5.8px;left:11.9px;">VIGILÂNCIA SANITÁRIA (XLIII) = (VII + XXXV)</div>
<div class="t" style="top:446px;font-size:5.8px;right:499.7px;">199.577,00</div>
<div class="t" style="top:446px;font-size:5.8px;right:438.9px;">15.600,00</div>
<div class="t" style="top:446px;font-size:5.8px;right:376.7px;">15.600,00</div>
<div class="t" style="top:446px;font-size:5.8px;right:313.8px;">100,00</div>
<div class="t" style="top:446px;font-size:5.8px;right:253.7px;">7.200,00</div>
<div class="t" style="top:446px;font-size:5.8px;right:191px;">46,15</div>
<div class="t" style="top:446px;font-size:5.8px;right:130.8px;">4.800,00</div>
<div class="t" style="top:446px;font-size:5.8px;right:69px;">30,76</div>
<div class="t" style="top:446px;font-size:5.8px;right:3.9px;">0,00</div>
<div class="t" style="top:456px;font-size:5.8px;left:11.9px;">VIGILÂNCIA EPIDEMIOLÓGICA (XLIV) = (VIII + XXXVI)</div>
<div class="t" style="top:456px;font-size:5.8px;right:499.7px;">626.533,00</div>
<div class="t" style="top:456px;font-size:5.8px;right:438.9px;">553.374,60</div>
<div class="t" style="top:456px;font-size:5.8px;right:376.7px;">531.378,60</div>
<div class="t" style="top:456px;font-size:5.8px;right:313.8px;">96,02</div>
<div class="t" style="top:456px;font-size:5.8px;right:253.7px;">292.049,10</div>
<div class="t" style="top:456px;font-size:5.8px;right:191px;">52,77</div>
<div class="t" style="top:456px;font-size:5.8px;right:130.8px;">261.554,10</div>
<div class="t" style="top:456px;font-size:5.8px;right:69px;">47,26</div>
<div class="t" style="top:456px;font-size:5.8px;right:3.9px;">0,00</div>
<div class="t" style="top:465px;font-size:5.8px;left:11.9px;">ALIMENTAÇÃO E NUTRIÇÃO (XLV) = (IX + XXXVII)</div>
<div class="t" style="top:465px;font-size:5.8px;right:499.7px;">0,00</div>
<div class="t" style="top:465px;font-size:5.8px;right:438.9px;">0,00</div>
<div class="t" style="top:465px;font-size:5.8px;right:376.7px;">0,00</div>
<div class="t" style="top:465px;font-size:5.8px;right:313.8px;">0,00</div>
<div class="t" style="top:465px;font-size:5.8px;right:253.7px;">0,00</div>
<div class="t" style="top:465px;font-size:5.8px;right:191px;">0,00</div>
<div class="t" style="top:465px;font-size:5.8px;right:130.8px;">0,00</div>
<div class="t" style="top:465px;font-size:5.8px;right:69px;">0,00</div>
<div class="t" style="top:465px;font-size:5.8px;right:3.9px;">0,00</div>
<div class="t" style="top:475px;font-size:5.8px;left:11.9px;">OUTRAS SUBFUNÇÕES (XLVI) = (X + XXXVIII)</div>
<div class="t" style="top:475px;font-size:5.8px;right:499.7px;">779.721,00</div>
<div class="t" style="top:475px;font-size:5.8px;right:438.9px;">3.053.722,06</div>
<div class="t" style="top:475px;font-size:5.8px;right:376.7px;">3.037.575,06</div>
<div class="t" style="top:475px;font-size:5.8px;right:313.8px;">99,47</div>
<div class="t" style="top:475px;font-size:5.8px;right:253.7px;">1.866.808,93</div>
<div class="t" style="top:475px;font-size:5.8px;right:191px;">61,13</div>
<div class="t" style="top:475px;font-size:5.8px;right:130.8px;">1.626.191,73</div>
<div class="t" style="top:475px;font-size:5.8px;right:69px;">53,25</div>
<div class="t" style="top:475px;font-size:5.8px;right:3.9px;">0,00</div>
<div class="t" style="top:484px;font-size:5.6px;font-weight:bold;left:11.9px;">TOTAL DAS DESPESAS COM SAÚDE (XLVII) = (XI + XXXIX)</div>
<div class="t" style="top:484px;font-size:5.8px;right:499.7px;">15.209.297,00</div>
<div class="t" style="top:484px;font-size:5.8px;right:438.9px;">19.629.277,07</div>
<div class="t" style="top:484px;font-size:5.8px;right:376.7px;">19.576.387,33</div>
<div class="t" style="top:484px;font-size:5.8px;right:313.8px;">99,73</div>
<div class="t" style="top:484px;font-size:5.8px;right:253.7px;">11.130.930,60</div>
<div class="t" style="top:484px;font-size:5.8px;right:191px;">56,70</div>
<div class="t" style="top:484px;font-size:5.8px;right:130.8px;">9.999.873,22</div>
<div class="t" style="top:484px;font-size:5.8px;right:69px;">50,94</div>
<div class="t" style="top:484px;font-size:5.8px;right:3.9px;">0,00</div>
<div class="t" style="top:506px;font-size:5.78px;left:13.3px;">1 - Nos cinco primeiros bimestres do exercício, o acompanhamento será feito com base na despesa liquidada. No último bimestre do exercício, o valor deverá corresponder ao total da despesa empenhada.</div>
<div class="t" style="top:514px;font-size:5.78px;left:13.1px;">2 - Até o exercício de 2018, o controle da execução dos restos a pagar considerava apenas os valores dos restos a pagar não processados. A partir do exercício de 2019, o controle da execução dos restos a pagar considera os restos a pagar processados e não processados.</div>
<div style="position:absolute;left:11px;top:604.5px;width:864px;height:1px;background:#b8b8b8"></div>
<div class="t" style="top:610px;font-size:8px;color:#808080;left:12px;letter-spacing:-0.12px;">Top Down Consultoria Ltda.</div>
</body></html>
